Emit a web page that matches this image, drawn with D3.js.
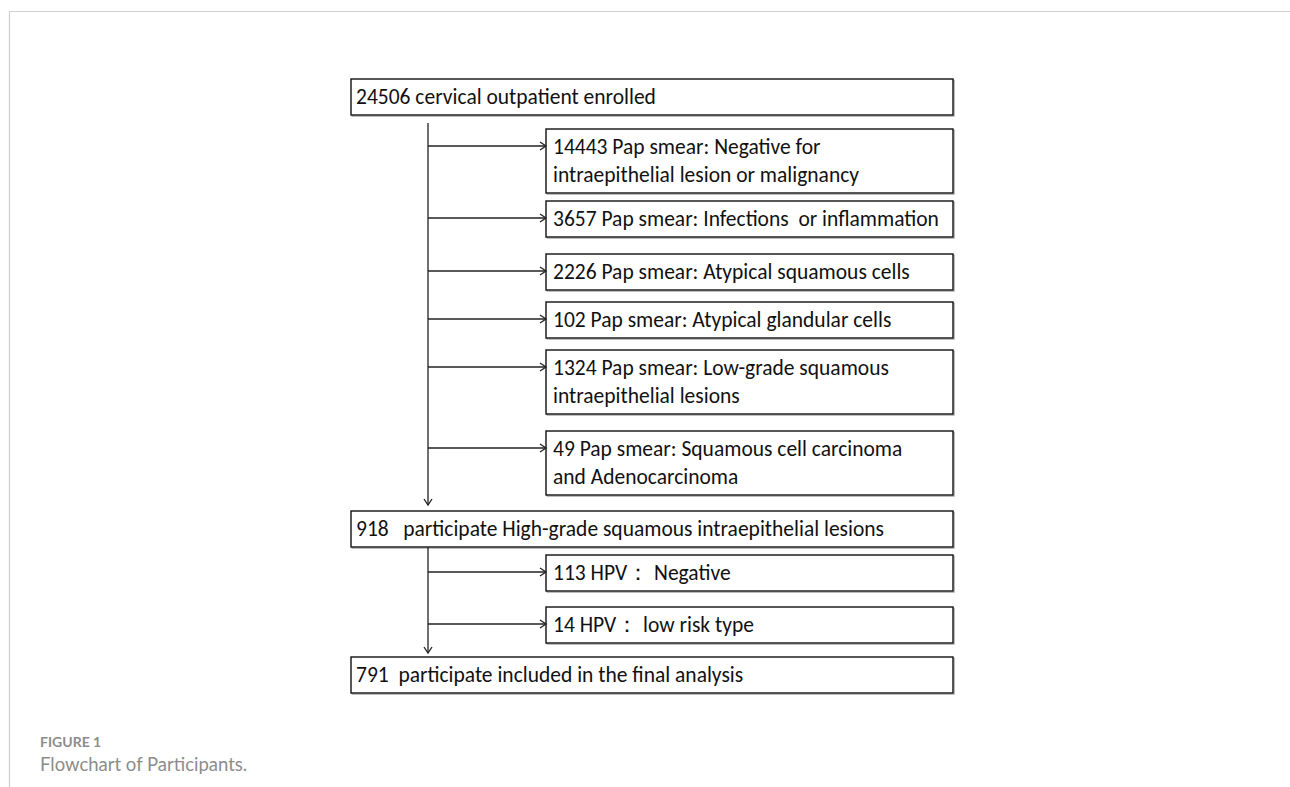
<!DOCTYPE html>
<html>
<head>
<meta charset="utf-8">
<script src="https://cdn.jsdelivr.net/npm/d3@7"></script>
<style>
  body { margin: 0; background: #fff; }
  svg { display: block; }
</style>
</head>
<body>
<svg id="chart" width="1290" height="787"></svg>
<script>
// main flow steps (left column, wide boxes)
const mainSteps = [
    ["24506 cervical outpatient enrolled"],
    ["918   participate High-grade squamous intraepithelial lesions"],
    ["791  participate included in the final analysis"]
];

// excluded after first step
const exclusionsPap = [
    ["14443 Pap smear: Negative for", "intraepithelial lesion or malignancy"],
    ["3657 Pap smear: Infections  or inflammation"],
    ["2226 Pap smear: Atypical squamous cells"],
    ["102 Pap smear: Atypical glandular cells"],
    ["1324 Pap smear: Low-grade squamous", "intraepithelial lesions"],
    ["49 Pap smear: Squamous cell carcinoma", "and Adenocarcinoma"]
];

// excluded after second step
const exclusionsHpv = [
    ["113 HPV： Negative"],
    ["14 HPV： low risk type"]
];

const captionLabel = "FIGURE 1";
const captionText = "Flowchart of Participants.";

// ---- layout ----
const svg = d3.select("#chart");
const W = 1290, H = 787;

const x = d3.scaleLinear().domain([0, 1]).range([351, 953]);   // main box span
const subLeft = 546;
const trunkX = 428;
const lineH = 28, pad = 4;
const fontFam = "Carlito, Calibri, Lato, 'Open Sans', sans-serif";

// gaps between consecutive boxes, top to bottom
const gaps = [14, 8, 17, 12, 12, 17, 16, 8, 16, 14];

// build the sequence of boxes in drawing order
const seq = [];
seq.push({ lines: mainSteps[0], kind: "main" });
exclusionsPap.forEach(l => seq.push({ lines: l, kind: "sub" }));
seq.push({ lines: mainSteps[1], kind: "main" });
exclusionsHpv.forEach(l => seq.push({ lines: l, kind: "sub" }));
seq.push({ lines: mainSteps[2], kind: "main" });

let cy = 79;
seq.forEach((d, i) => {
    d.h = pad * 2 + d.lines.length * lineH;
    d.y = cy;
    d.x0 = d.kind === "main" ? x(0) : subLeft;
    d.x1 = x(1);
    cy += d.h + (gaps[i] || 0);
});

// frame lines
svg.append("line").attr("x1", 9).attr("x2", W).attr("y1", 11.5).attr("y2", 11.5)
    .attr("stroke", "#cfcfcf").attr("stroke-width", 1.2);
svg.append("line").attr("x1", 9.5).attr("x2", 9.5).attr("y1", 11).attr("y2", H)
    .attr("stroke", "#cfcfcf").attr("stroke-width", 1.2);

const g = svg.append("g");

// boxes
const boxes = g.selectAll("g.box").data(seq).join("g").attr("class", "box");
boxes.append("rect")
    .attr("x", d => d.x0 + 1.2).attr("y", d => d.y + 1.2)
    .attr("width", d => d.x1 - d.x0).attr("height", d => d.h)
    .attr("fill", "none").attr("stroke", "#a0a0a0").attr("stroke-width", 1);
boxes.append("rect")
    .attr("x", d => d.x0).attr("y", d => d.y)
    .attr("width", d => d.x1 - d.x0).attr("height", d => d.h)
    .attr("fill", "#fff").attr("stroke", "#111").attr("stroke-width", 1.4);
boxes.each(function(d) {
    const t = d3.select(this).append("text")
        .attr("font-family", fontFam).attr("font-size", 21.5).attr("fill", "#111")
        .style("white-space", "pre");
    d.lines.forEach((ln, j) => {
        t.append("tspan")
            .attr("x", d.x0 + (d.kind === "main" ? 5 : 7))
            .attr("y", d.y + pad + 21 + j * lineH)
            .text(ln);
    });
});

// arrows
const ah = 6, aw = 4;
function arrowRight(y) {
    g.append("line").attr("x1", trunkX).attr("x2", subLeft).attr("y1", y).attr("y2", y)
        .attr("stroke", "#222").attr("stroke-width", 1.3);
    g.append("path").attr("d", `M${subLeft - ah},${y - aw}L${subLeft},${y}L${subLeft - ah},${y + aw}`)
        .attr("fill", "none").attr("stroke", "#222").attr("stroke-width", 1.3);
}
function arrowDown(y0, y1) {
    g.append("line").attr("x1", trunkX).attr("x2", trunkX).attr("y1", y0).attr("y2", y1)
        .attr("stroke", "#222").attr("stroke-width", 1.3);
    g.append("path").attr("d", `M${trunkX - aw},${y1 - ah}L${trunkX},${y1}L${trunkX + aw},${y1 - ah}`)
        .attr("fill", "none").attr("stroke", "#222").attr("stroke-width", 1.3);
}

const mains = seq.filter(d => d.kind === "main");
arrowDown(mains[0].y + mains[0].h + 8, mains[1].y - 6);
arrowDown(mains[1].y + mains[1].h, mains[2].y - 4);
seq.filter(d => d.kind === "sub").forEach(d => arrowRight(d.y + 17));

// caption
svg.append("text").attr("x", 40).attr("y", 747)
    .attr("font-family", "Lato, 'Open Sans', sans-serif").attr("font-size", 14)
    .attr("font-weight", "bold").attr("fill", "#8c8c8c").text(captionLabel);
svg.append("text").attr("x", 40).attr("y", 771)
    .attr("font-family", "Lato, 'Open Sans', sans-serif").attr("font-size", 18.5)
    .attr("fill", "#8c8c8c").text(captionText);
</script>
</body>
</html>
